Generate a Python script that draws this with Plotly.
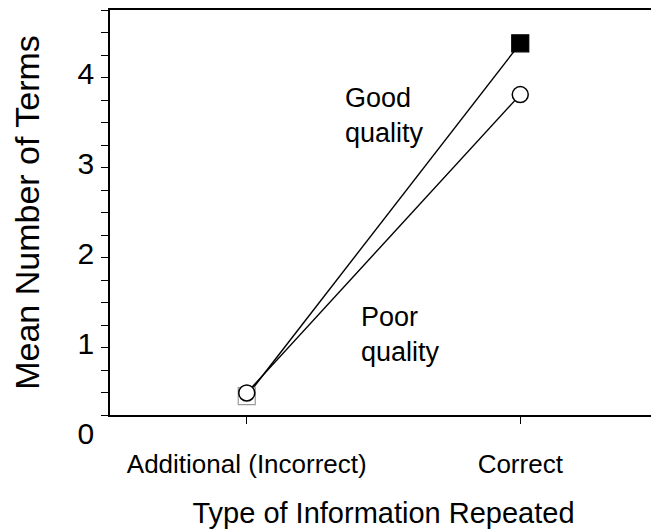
import plotly.graph_objects as go

categories = ["Additional (Incorrect)", "Correct"]
good_quality = [0.21, 4.13]
poor_quality = [0.245, 3.56]
y_tick_vals = [0, 1, 2, 3, 4]
y_tick_text = ["0", "1", "2", "3", "4"]

x_idx = [0, 1]

fig = go.Figure()
fig.add_trace(go.Scatter(
    x=x_idx, y=good_quality, mode="lines+markers", name="Good quality",
    line=dict(color="black", width=1.4),
    marker=dict(symbol="square", size=17,
                color=["white", "black"],
                line=dict(color=["#9a9a9a", "black"], width=1.2)),
    showlegend=False,
))
fig.add_trace(go.Scatter(
    x=x_idx, y=poor_quality, mode="lines+markers", name="Poor quality",
    line=dict(color="black", width=1.4),
    marker=dict(symbol="circle", size=16, color="white",
                line=dict(color="black", width=1.5)),
    showlegend=False,
))

fig.add_annotation(x=0.352, y=3.33, xref="x", yref="y", text="Good<br>quality",
                   showarrow=False, xanchor="left", yanchor="middle", align="left",
                   font=dict(family="Liberation Sans", size=27, color="black"))
fig.add_annotation(x=0.41, y=0.9, xref="x", yref="y", text="Poor<br>quality",
                   showarrow=False, xanchor="left", yanchor="middle", align="left",
                   font=dict(family="Liberation Sans", size=27, color="black"))

# the page body has an 8px margin, so the figure is sized to fit the window
fig.update_layout(
    width=651, height=524,
    margin=dict(l=102, r=2, t=2, b=117),
    paper_bgcolor="white", plot_bgcolor="white",
    font=dict(family="Liberation Sans", color="black"),
)
fig.update_xaxes(
    range=[-0.5, 1.5], tickmode="array", tickvals=x_idx, ticktext=categories,
    automargin=False,
    showline=True, linecolor="black", linewidth=1.6, mirror="ticks",
    ticks="outside", ticklen=7, tickwidth=1.3, tickcolor="black",
    showgrid=False, zeroline=False,
    tickfont=dict(family="Liberation Sans", size=26),
    ticklabelstandoff=18,
    title=dict(text="Type of Information Repeated", standoff=25,
               font=dict(family="Liberation Sans", size=29)),
)
fig.update_yaxes(
    range=[0, 4.5], tickmode="array", tickvals=y_tick_vals, ticktext=y_tick_text,
    automargin=False,
    ticklabelshift=18, ticklabelstandoff=8,
    showline=True, linecolor="black", linewidth=1.6, mirror=True,
    ticks="", showgrid=False, zeroline=False,
    tickfont=dict(family="Liberation Sans", size=30),
    minor=dict(dtick=0.25, tick0=0, ticks="outside", ticklen=7, tickwidth=1.3,
               tickcolor="black", showgrid=False),
    title=dict(text="Mean Number of Terms", standoff=43,
               font=dict(family="Liberation Sans", size=34)),
)

fig.write_html("out.html")
